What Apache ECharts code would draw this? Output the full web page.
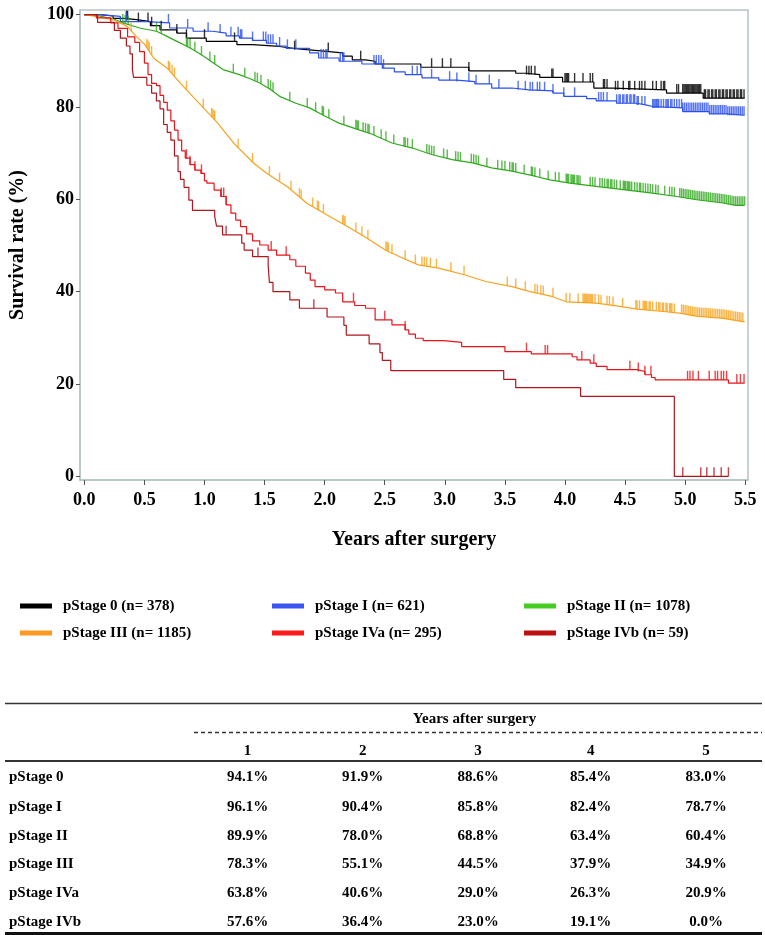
<!DOCTYPE html>
<html><head><meta charset="utf-8">
<script src="https://cdn.jsdelivr.net/npm/echarts@6/dist/echarts.min.js"></script>
<style>html,body{margin:0;padding:0;background:#fff}#c{width:765px;height:935px}</style>
</head><body><div id="c"></div>
<script>
// ---------- data ----------
const stageNames = ['pStage 0', 'pStage I', 'pStage II', 'pStage III', 'pStage IVa', 'pStage IVb'];
const stageN = [378, 621, 1078, 1185, 295, 59];
const stageColors = ['#000000', '#2b4ff0', '#2fa81c', '#f7a21b', '#e8141a', '#b0161e'];
const legendColors = ['#000000', '#3a56f0', '#44cc22', '#ff9922', '#ff1a1a', '#bb1111'];
const stepped = [true, true, false, false, true, true];

const km0 = [[0,100],[0.13,99.7],[0.24,99.2],[0.33,98.9],[0.435,98.5],[0.55,97.6],[0.63,96.7],[0.77,96.0],[0.85,94.9],[1.015,94.2],[1.27,93.5],[1.40,93.1],[1.625,92.7],[1.74,92.4],[1.85,92.0],[2.035,91.7],[2.15,91.0],[2.23,90.2],[2.34,89.9],[2.42,89.3],[2.80,88.6],[3.20,87.8],[3.59,87.3],[3.68,87.0],[3.79,86.4],[3.98,85.4],[4.24,84.1],[4.40,83.7],[4.845,83.0],[5.15,81.9],[5.495,81.9]];
const km1 = [[0,100],[0.13,99.6],[0.30,98.5],[0.52,98.2],[0.71,97.1],[0.905,96.4],[1.07,96.0],[1.18,95.4],[1.29,94.9],[1.40,94.4],[1.515,93.8],[1.60,93.2],[1.68,92.7],[1.875,91.7],[1.95,90.6],[2.12,89.9],[2.31,89.3],[2.48,88.4],[2.58,87.6],[2.67,87.0],[2.81,86.3],[2.95,85.8],[3.10,85.5],[3.25,85.0],[3.39,84.1],[3.56,83.7],[3.70,83.5],[3.90,83.0],[3.99,82.3],[4.18,81.8],[4.26,81.3],[4.43,80.8],[4.60,80.4],[4.68,80.1],[4.73,79.8],[4.98,79.0],[5.20,78.5],[5.35,78.2],[5.495,78.2]];
const km2 = [[0,100],[0.15,99.6],[0.25,99.0],[0.32,98.2],[0.46,97.1],[0.60,96.4],[0.68,95.4],[0.77,94.2],[0.84,93.3],[0.905,92.4],[0.96,91.5],[1.015,90.6],[1.08,89.4],[1.155,88.1],[1.29,87.0],[1.38,86.1],[1.46,85.2],[1.55,83.8],[1.625,82.3],[1.76,80.8],[1.875,79.8],[1.98,78.3],[2.05,77.4],[2.12,76.5],[2.28,75.1],[2.395,74.1],[2.48,73.1],[2.56,72.2],[2.73,71.1],[2.89,69.7],[3.06,68.6],[3.23,67.9],[3.39,66.8],[3.56,66.1],[3.75,65.0],[3.875,64.2],[4.04,63.5],[4.26,62.8],[4.485,62.1],[4.71,61.4],[4.93,60.6],[5.095,59.9],[5.315,59.2],[5.42,58.7],[5.495,58.7]];
const km3 = [[0,100],[0.10,99.6],[0.25,98.8],[0.36,97.4],[0.42,95.6],[0.50,93.6],[0.58,90.5],[0.69,88.4],[0.80,85.1],[0.97,80.4],[1.11,76.5],[1.245,72.1],[1.41,67.8],[1.52,65.6],[1.69,62.7],[1.855,59.1],[2.02,56.6],[2.19,54.1],[2.35,51.6],[2.505,49.0],[2.62,47.6],[2.78,45.8],[2.95,45.1],[3.17,43.6],[3.34,42.2],[3.56,41.1],[3.71,40.0],[3.90,38.9],[4.01,37.8],[4.26,37.5],[4.43,36.9],[4.60,36.2],[4.82,35.7],[4.97,35.3],[5.09,34.7],[5.32,34.2],[5.48,33.5],[5.495,33.5]];
const km4 = [[0,100],[0.10,99.3],[0.22,98.2],[0.28,97.0],[0.36,95.2],[0.42,94.0],[0.46,92.0],[0.50,89.5],[0.53,87.0],[0.56,85.1],[0.60,84.6],[0.63,82.5],[0.66,81.0],[0.69,79.3],[0.72,77.0],[0.75,75.0],[0.78,72.8],[0.81,70.5],[0.84,68.9],[0.88,67.5],[0.92,66.3],[0.97,65.6],[1.00,64.0],[1.02,63.5],[1.08,62.0],[1.135,60.6],[1.18,58.8],[1.22,57.0],[1.26,55.5],[1.30,54.1],[1.35,52.5],[1.40,51.0],[1.46,50.1],[1.53,49.0],[1.60,47.9],[1.71,46.9],[1.76,45.5],[1.84,44.0],[1.88,42.5],[1.92,41.1],[2.00,40.4],[2.09,39.7],[2.15,37.8],[2.25,37.0],[2.34,36.4],[2.42,33.9],[2.56,32.8],[2.67,31.7],[2.70,30.8],[2.755,29.9],[2.82,29.4],[2.99,29.0],[3.14,28.1],[3.50,27.0],[3.72,26.5],[4.06,25.9],[4.10,25.2],[4.21,24.5],[4.26,23.8],[4.35,23.1],[4.60,22.7],[4.665,22.0],[4.72,21.4],[4.75,20.9],[5.36,20.2],[5.495,20.2]];
const km5 = [[0,100],[0.11,98.3],[0.25,96.6],[0.30,94.9],[0.35,93.2],[0.38,91.5],[0.40,88.1],[0.41,86.4],[0.52,84.7],[0.56,83.0],[0.60,81.3],[0.63,79.6],[0.66,76.2],[0.69,74.5],[0.72,72.8],[0.75,69.4],[0.78,66.0],[0.80,64.3],[0.83,62.6],[0.87,59.8],[0.90,57.6],[1.085,56.3],[1.10,54.2],[1.15,52.3],[1.31,50.5],[1.33,49.0],[1.40,47.6],[1.53,45.7],[1.54,42.0],[1.57,40.0],[1.71,38.2],[1.79,36.4],[2.02,34.5],[2.16,32.7],[2.18,30.6],[2.37,28.7],[2.46,26.8],[2.48,25.1],[2.55,22.9],[3.49,21.0],[3.59,19.2],[4.13,17.3],[4.91,0],[5.36,0]];

const cen0 = [0.35,0.36,0.45,0.53,0.56,0.64,0.77,0.85,1.00,1.25,1.75,2.03,2.30,2.89,2.98,3.05,3.20,3.68,3.70,3.72,3.75,3.89,3.90,4.00,4.01,4.02,4.03,4.08,4.15,4.21,4.23,4.32,4.33,4.35,4.42,4.44,4.485,4.53,4.54,4.58,4.62,4.64,4.665,4.73,4.76,4.80,4.82,4.83,4.93,4.945,4.98,4.99,5.00,5.01,5.02,5.03,5.04,5.05,5.06,5.07,5.08,5.09,5.10,5.11,5.12,5.13,5.16,5.17,5.19,5.20,5.22,5.23,5.25,5.26,5.28,5.29,5.31,5.32,5.34,5.35,5.37,5.38,5.40,5.41,5.43,5.44,5.46,5.47,5.49];
const cen1 = [0.35,0.70,0.86,1.03,1.13,1.22,1.28,1.30,1.31,1.40,1.49,1.51,1.53,1.55,1.57,1.625,1.69,1.76,1.97,1.99,2.01,2.02,2.13,2.15,2.16,2.41,2.43,2.45,2.47,2.49,2.73,2.77,2.80,2.89,3.04,3.10,3.20,3.26,3.37,3.45,3.61,3.67,3.71,3.73,3.77,3.79,3.83,3.90,3.99,4.08,4.28,4.30,4.32,4.35,4.43,4.45,4.46,4.48,4.49,4.51,4.52,4.54,4.55,4.57,4.58,4.60,4.61,4.64,4.665,4.73,4.74,4.75,4.76,4.77,4.78,4.80,4.82,4.84,4.85,4.86,4.88,4.89,4.91,4.93,4.95,4.97,4.98,4.995,5.01,5.025,5.04,5.055,5.07,5.085,5.10,5.115,5.13,5.145,5.16,5.175,5.19,5.205,5.22,5.235,5.25,5.265,5.28,5.295,5.31,5.325,5.34,5.355,5.37,5.385,5.40,5.415,5.43,5.445,5.46,5.475,5.49];
const cen2 = [0.32,0.34,0.365,0.60,0.64,0.85,0.86,0.88,0.92,0.975,1.045,1.085,1.24,1.335,1.42,1.44,1.47,1.53,1.55,1.57,1.71,1.855,1.925,1.98,1.99,2.035,2.16,2.26,2.27,2.28,2.32,2.34,2.36,2.37,2.41,2.47,2.51,2.575,2.66,2.67,2.69,2.73,2.85,2.87,2.89,2.91,2.99,3.02,3.09,3.11,3.13,3.22,3.24,3.26,3.28,3.35,3.44,3.475,3.50,3.54,3.56,3.57,3.59,3.66,3.72,3.73,3.75,3.79,3.86,3.92,3.95,4.01,4.02,4.03,4.05,4.06,4.07,4.08,4.10,4.11,4.125,4.21,4.23,4.25,4.29,4.31,4.33,4.35,4.36,4.38,4.39,4.41,4.43,4.46,4.485,4.495,4.505,4.52,4.53,4.54,4.555,4.58,4.60,4.62,4.63,4.65,4.67,4.69,4.71,4.73,4.755,4.775,4.83,4.87,4.89,4.91,4.955,4.97,4.985,5.00,5.015,5.03,5.045,5.06,5.075,5.09,5.105,5.12,5.135,5.15,5.165,5.18,5.195,5.21,5.225,5.24,5.255,5.27,5.285,5.30,5.315,5.33,5.345,5.36,5.375,5.39,5.405,5.42,5.435,5.45,5.465,5.48,5.495];
const cen3 = [0.39,0.52,0.53,0.54,0.56,0.70,0.71,0.73,0.75,0.85,0.99,1.06,1.07,1.08,1.085,1.28,1.40,1.54,1.625,1.72,1.79,1.805,1.90,1.94,1.95,1.99,2.15,2.16,2.17,2.26,2.31,2.36,2.51,2.52,2.53,2.56,2.67,2.755,2.81,2.83,2.85,2.88,2.93,3.05,3.16,3.52,3.59,3.67,3.75,3.77,3.80,3.82,3.90,4.01,4.04,4.11,4.15,4.16,4.17,4.18,4.19,4.20,4.21,4.22,4.23,4.25,4.28,4.30,4.35,4.37,4.40,4.48,4.59,4.60,4.62,4.65,4.66,4.67,4.68,4.70,4.71,4.73,4.76,4.78,4.79,4.81,4.82,4.84,4.85,4.87,4.88,4.89,4.91,4.97,4.985,5.00,5.015,5.03,5.045,5.06,5.075,5.09,5.105,5.12,5.135,5.15,5.165,5.18,5.195,5.21,5.225,5.24,5.255,5.27,5.285,5.30,5.315,5.33,5.345,5.36,5.375,5.39,5.405,5.42,5.435,5.45,5.465,5.48];
const cen4 = [0.85,0.88,0.92,0.975,1.14,1.16,1.18,1.555,1.68,2.24,2.50,2.67,3.68,3.835,3.855,4.14,4.24,4.54,4.61,4.665,4.715,5.02,5.04,5.065,5.11,5.20,5.25,5.27,5.30,5.32,5.345,5.43,5.46,5.49];
const cen5 = [1.18,1.445,1.91,4.98,5.13,5.18,5.24,5.30,5.36];

const xTicks = [0, 0.5, 1.0, 1.5, 2.0, 2.5, 3.0, 3.5, 4.0, 4.5, 5.0, 5.5];
const yTicks = [0, 20, 40, 60, 80, 100];

// table
const tableHeader = 'Years after surgery';
const tableYears = ['1', '2', '3', '4', '5'];
const tableRows = ['pStage 0', 'pStage I', 'pStage II', 'pStage III', 'pStage IVa', 'pStage IVb'];
const tableValues = [
  ['94.1%', '91.9%', '88.6%', '85.4%', '83.0%'],
  ['96.1%', '90.4%', '85.8%', '82.4%', '78.7%'],
  ['89.9%', '78.0%', '68.8%', '63.4%', '60.4%'],
  ['78.3%', '55.1%', '44.5%', '37.9%', '34.9%'],
  ['63.8%', '40.6%', '29.0%', '26.3%', '20.9%'],
  ['57.6%', '36.4%', '23.0%', '19.1%', '0.0%']
];

// ---------- build ----------
const kms = [km0, km1, km2, km3, km4, km5];
const cens = [cen0, cen1, cen2, cen3, cen4, cen5];
const SERIF = 'Liberation Serif';

function stepAt(k, t) { let v = k[0][1]; for (const p of k) { if (p[0] <= t) v = p[1]; else break; } return v; }
function lineAt(k, t) {
  for (let i = 1; i < k.length; i++) {
    if (t <= k[i][0]) { const a = k[i - 1], b = k[i]; const f = (t - a[0]) / (b[0] - a[0] || 1); return a[1] + f * (b[1] - a[1]); }
  }
  return k[k.length - 1][1];
}
const labels = stageNames.map((s, i) => s + ' (n= ' + stageN[i] + ')');

const series = [];
kms.forEach((k, i) => {
  series.push({
    type: 'line', name: labels[i], data: k, step: stepped[i] ? 'end' : false,
    symbol: 'none', showSymbol: false, silent: true, animation: false,
    lineStyle: { width: 1.2, color: stageColors[i] }, itemStyle: { color: legendColors[i] }, z: 3
  });
});
cens.forEach((c, i) => {
  const k = kms[i];
  series.push({
    type: 'scatter', name: labels[i] + ' censored', silent: true, animation: false,
    data: c.map(t => [t, stepped[i] ? stepAt(k, t) : lineAt(k, t)]),
    symbol: 'rect', symbolSize: [1.4, 9], symbolOffset: [0, -4.5],
    itemStyle: { color: stageColors[i] }, z: 4
  });
});

const legendCols = [[0, 3], [1, 4], [2, 5]];
const legendLeft = [20, 272, 524];
const legends = legendCols.map((col, j) => ({
  orient: 'vertical', left: legendLeft[j], top: 597, padding: 0, itemWidth: 32, itemHeight: 5, itemGap: 9,
  icon: 'rect', selectedMode: false,
  data: col.map(i => ({ name: labels[i], itemStyle: { color: legendColors[i] } })),
  textStyle: { fontFamily: SERIF, fontWeight: 'bold', fontSize: 15, color: '#000', padding: [0, 0, 0, 6], lineHeight: 18 }
}));

// table graphics
const colX = [247.5, 362.7, 478, 590.7, 706];
const rowY = [777.3, 806.7, 835.7, 864, 893.3, 921.7];
const tstyle = (extra) => Object.assign({ fontFamily: SERIF, fontWeight: 'bold', fontSize: 15, fill: '#000' }, extra);
const graphic = [];
graphic.push({ type: 'line', shape: { x1: 5, y1: 703.5, x2: 762, y2: 703.5 }, style: { stroke: '#333', lineWidth: 1.5 } });
graphic.push({ type: 'line', shape: { x1: 194, y1: 732.5, x2: 762, y2: 732.5 }, style: { stroke: '#333', lineWidth: 1.5, lineDash: [4, 3] } });
graphic.push({ type: 'line', shape: { x1: 5, y1: 761, x2: 762, y2: 761 }, style: { stroke: '#333', lineWidth: 2 } });
graphic.push({ type: 'line', shape: { x1: 5, y1: 933.5, x2: 762, y2: 933.5 }, style: { stroke: '#111', lineWidth: 3 } });
graphic.push({ type: 'text', x: 474.5, y: 719, style: tstyle({ text: tableHeader, align: 'center', verticalAlign: 'middle' }) });
tableYears.forEach((yv, j) => graphic.push({ type: 'text', x: colX[j], y: 751, style: tstyle({ text: yv, align: 'center', verticalAlign: 'middle' }) }));
tableRows.forEach((r, i) => {
  graphic.push({ type: 'text', x: 9, y: rowY[i], style: tstyle({ text: r, align: 'left', verticalAlign: 'middle' }) });
  tableValues[i].forEach((v, j) => graphic.push({ type: 'text', x: colX[j], y: rowY[i], style: tstyle({ text: v, align: 'center', verticalAlign: 'middle' }) }));
});

const axisFont = { fontFamily: SERIF, fontWeight: 'bold', fontSize: 18, color: '#000' };
const frameColor = '#b7c4c4';
const option = {
  animation: false,
  backgroundColor: '#fff',
  grid: { left: 79, top: 10, width: 669, height: 470, show: true, borderColor: frameColor, borderWidth: 1.5, backgroundColor: 'transparent' },
  xAxis: {
    type: 'value', min: -0.036, max: 5.523,
    axisLine: { show: true, onZero: false, lineStyle: { color: frameColor, width: 1.5 } },
    axisTick: { show: true, length: 5, customValues: xTicks, lineStyle: { color: '#555', width: 1 } },
    axisLabel: { customValues: xTicks, formatter: v => Number(v).toFixed(1), margin: 11, ...axisFont },
    splitLine: { show: false },
    name: 'Years after surgery', nameLocation: 'middle', nameGap: 50,
    nameTextStyle: { fontFamily: SERIF, fontWeight: 'bold', fontSize: 20, color: '#000' }
  },
  yAxis: {
    type: 'value', min: -0.8, max: 101,
    axisLine: { show: true, onZero: false, lineStyle: { color: frameColor, width: 1.5 } },
    axisTick: { show: true, length: 4, customValues: yTicks, lineStyle: { color: '#555', width: 1 } },
    axisLabel: { customValues: yTicks, margin: 6, ...axisFont },
    splitLine: { show: false },
    name: 'Survival rate (%)', nameLocation: 'middle', nameGap: 52, nameRotate: 90,
    nameTextStyle: { fontFamily: SERIF, fontWeight: 'bold', fontSize: 20, color: '#000' }
  },
  legend: legends,
  graphic: graphic,
  series: series
};
const chart = echarts.init(document.getElementById('c'), null, { renderer: 'canvas' });
chart.setOption(option);
</script>
</body></html>
